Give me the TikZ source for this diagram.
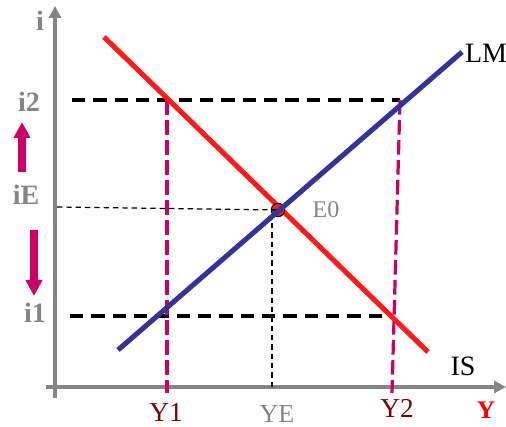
\documentclass[tikz,border=0pt]{standalone}
\usepackage{fontspec}
\setmainfont{Liberation Serif}
\usetikzlibrary{arrows.meta}
\definecolor{axisgray}{HTML}{858585}
\definecolor{isred}{HTML}{FF1A1A}
\definecolor{lmblue}{HTML}{333399}
\definecolor{shiftpink}{HTML}{CC0066}
\definecolor{darkred}{HTML}{800000}

\begin{document}
\begin{tikzpicture}[x=0.75pt,y=-0.75pt]
\tikzset{
  axisline/.style={draw=axisgray,line width=3.2pt,-{Triangle[length=9pt,width=9pt]}},
  curve/.style={line width=3.8pt},
  levelline/.style={draw=black,line width=2.5pt,dash pattern=on 10pt off 6pt},
  guideline/.style={draw=black,line width=0.9pt,dash pattern=on 4pt off 3pt},
  dropline/.style={draw=shiftpink,line width=2.4pt,dash pattern=on 11pt off 4pt},
  shiftarrow/.style={draw=shiftpink,line width=5.5pt,-{Triangle[length=12pt,width=12pt]}},
  ilabel/.style={font=\bfseries\fontsize{21}{21}\selectfont,text=axisgray},
  ylabel/.style={font=\fontsize{20.5}{20.5}\selectfont,text=darkred}
}
\useasboundingbox (0,0) rectangle (506,427);
% axes
\coordinate (ax_o) at (55,387);
\coordinate (ax_ybot) at (55,398);
\coordinate (ax_ytop) at (55,6);
\coordinate (ax_xl) at (46,387);
\coordinate (ax_xr) at (506,387);
\draw[axisline] (ax_ybot) -- (ax_ytop);
\draw[axisline] (ax_xl) -- (ax_xr);
% curve ends and crossing points
\coordinate (is_a) at (104,37);
\coordinate (is_b) at (428,352);
\coordinate (lm_a) at (118,350);
\coordinate (lm_b) at (462,52);
\coordinate (i2_l) at (72,100);
\coordinate (i2_r) at (400,100);
\coordinate (i1_l) at (70,316);
\coordinate (i1_r) at (391,316);
\coordinate (y1_t) at (167,100);
\coordinate (y1_b) at (167,393);
\coordinate (y2_b) at (392,393);
\coordinate (ie_l) at (57,207);
\coordinate (ye_b) at (272,387);
% level lines
\draw[levelline] (i2_l) -- (i2_r);
\draw[levelline] (i1_l) -- (i1_r);
\draw[dropline] (y1_t) -- (y1_b);
\draw[dropline] (i2_r) -- (y2_b);
% IS, equilibrium, LM
\draw[curve,isred] (is_a) -- (is_b);
\node[circle,draw=black,fill=isred,line width=0.8pt,minimum size=10pt,inner sep=0pt] (n_E0) at (278,210) {};
\draw[guideline] (ie_l) -- (n_E0.center);
\draw[guideline] (ye_b) |- (n_E0.center);
\draw[curve,lmblue] (lm_a) -- (lm_b);
% labels
\node[ilabel] (l_i) at (40,21) {i};
\node[ilabel] (l_i2) at (29,102) {i2};
\node[ilabel] (l_iE) at (26,195) {iE};
\node[ilabel] (l_i1) at (35,313) {i1};
\node[font=\fontsize{18}{18}\selectfont,text=axisgray] (l_E0) at (326,210) {E0};
\node[font=\fontsize{21}{21}\selectfont] (l_LM) at (486,53) {LM};
\node[font=\fontsize{21}{21}\selectfont] (l_IS) at (463,366) {IS};
\node[ylabel] (l_Y1) at (166,412) {Y1};
\node[font=\fontsize{19.5}{19.5}\selectfont,text=axisgray] (l_YE) at (277,414) {YE};
\node[ylabel] (l_Y2) at (397,408) {Y2};
\node[font=\bfseries\fontsize{19}{19}\selectfont,text=red] (l_Y) at (486,410) {Y};
% shifts of i
\coordinate (up_b) at (22,172);
\coordinate (up_t) at (22,122);
\coordinate (dn_t) at (34,230);
\coordinate (dn_b) at (34,296);
\draw[shiftarrow] (up_b) -- (up_t);
\draw[shiftarrow] (dn_t) -- (dn_b);
\end{tikzpicture}
\end{document}
